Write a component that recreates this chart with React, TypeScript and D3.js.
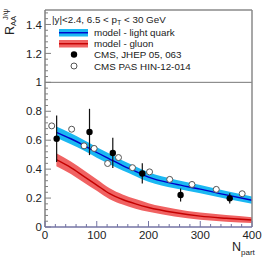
import * as d3 from "d3"

// model curves (Npart grid)
const NPART = [22, 50, 75, 100, 125, 150, 175, 200, 250, 300, 350, 400]
const LQ_MID = [0.655, 0.61, 0.565, 0.515, 0.47, 0.425, 0.385, 0.345, 0.298, 0.262, 0.222, 0.185]
const LQ_HI = [0.695, 0.648, 0.602, 0.552, 0.506, 0.46, 0.419, 0.378, 0.329, 0.291, 0.249, 0.21]
const LQ_LO = [0.617, 0.572, 0.528, 0.478, 0.434, 0.39, 0.351, 0.312, 0.267, 0.233, 0.195, 0.16]
const GL_MID = [0.465, 0.41, 0.35, 0.29, 0.23, 0.19, 0.16, 0.135, 0.1, 0.075, 0.06, 0.048]
const GL_HI = [0.51, 0.453, 0.392, 0.33, 0.268, 0.225, 0.193, 0.165, 0.127, 0.1, 0.083, 0.068]
const GL_LO = [0.42, 0.367, 0.308, 0.25, 0.192, 0.155, 0.127, 0.105, 0.073, 0.05, 0.037, 0.028]

// CMS, JHEP 05, 063
const JHEP_N = [22.5, 86, 131, 188, 262, 357]
const JHEP_R = [0.61, 0.657, 0.512, 0.37, 0.221, 0.198]
const JHEP_ERR = [0.16, 0.16, 0.105, 0.07, 0.045, 0.035]

// CMS PAS HIN-12-014
const PAS_N = [13, 51.5, 75.5, 95, 121, 142, 169, 202, 241, 284, 331, 381]
const PAS_R = [0.699, 0.676, 0.561, 0.543, 0.439, 0.48, 0.41, 0.381, 0.329, 0.294, 0.26, 0.23]

const X_TICKS = [0, 100, 200, 300, 400]
const Y_TICKS = [0, 0.2, 0.4, 0.6, 0.8, 1, 1.2, 1.4]

const LEGEND = ["model - light quark", "model - gluon", "CMS, JHEP 05, 063", "CMS PAS HIN-12-014"]

const W = 266
const H = 258
const left = 45
const right = 252
const top = 10
const bottom = 227

const FONT = "'Liberation Sans', Arial, Helvetica, sans-serif"

export default function App() {
    const x = d3.scaleLinear().domain([0, 400]).range([left, right])
    const y = d3.scaleLinear().domain([0, 1.5]).range([bottom, top])

    const idx = d3.range(NPART.length)
    const band = (lo: number[], hi: number[]) =>
        d3
            .area<number>()
            .x((i) => x(NPART[i]))
            .y0((i) => y(lo[i]))
            .y1((i) => y(hi[i]))
            .curve(d3.curveMonotoneX)(idx) || ""
    const line = (mid: number[]) =>
        d3
            .line<number>()
            .x((i) => x(NPART[i]))
            .y((i) => y(mid[i]))
            .curve(d3.curveMonotoneX)(idx) || ""

    const xMinor = d3.range(0, 401, 20).filter((v) => v % 100 !== 0)
    const yMinor = d3.range(0, 1.501, 0.04).filter((v) => Math.abs(v / 0.2 - Math.round(v / 0.2)) > 0.01)

    const axisY = "#808080"
    const axisX = "#7474a4"

    return (
        <div style={{ position: "fixed", left: 0, top: 0, width: W, height: H, background: "#fff" }}>
            <svg width={W} height={H} style={{ display: "block" }} fontFamily={FONT}>
                {/* bands */}
                <path d={band(GL_LO, GL_HI)} fill="#f06262" />
                <path d={band(LQ_LO, LQ_HI)} fill="#1bb8f2" />
                <path d={line(GL_MID)} fill="none" stroke="#c40000" strokeWidth={1.4} />
                <path d={line(LQ_MID)} fill="none" stroke="#0000c8" strokeWidth={1.4} />

                {/* reference line at 1 */}
                <line x1={left} x2={right} y1={y(1)} y2={y(1)} stroke="#777" strokeWidth={1} />

                {/* frame */}
                <line x1={left} x2={right} y1={top} y2={top} stroke="#8a8a8a" strokeWidth={1.5} />
                <line x1={right} x2={right} y1={top} y2={bottom} stroke="#8a8a8a" strokeWidth={1.5} />

                {/* y axis */}
                <line x1={left} x2={left} y1={top} y2={bottom} stroke={axisY} strokeWidth={1.5} />
                {Y_TICKS.map((v) => (
                    <g key={"yt" + v}>
                        <line x1={left} x2={left + 6} y1={y(v)} y2={y(v)} stroke={axisY} strokeWidth={1} />
                        <text x={left - 3} y={y(v)} dy="0.36em" textAnchor="end" fontSize={11.5} fill="#222">
                            {v}
                        </text>
                    </g>
                ))}
                {yMinor.map((v) => (
                    <line key={"ym" + v} x1={left} x2={left + 3} y1={y(v)} y2={y(v)} stroke={axisY} strokeWidth={1} />
                ))}

                {/* x axis */}
                <line x1={left} x2={right} y1={bottom} y2={bottom} stroke={axisX} strokeWidth={1.5} />
                {X_TICKS.map((v) => (
                    <g key={"xt" + v}>
                        <line x1={x(v)} x2={x(v)} y1={bottom} y2={bottom - 6} stroke={axisX} strokeWidth={1} />
                        <text x={x(v)} y={bottom + 12} textAnchor="middle" fontSize={11.5} fill="#222">
                            {v}
                        </text>
                    </g>
                ))}
                {xMinor.map((v) => (
                    <line key={"xm" + v} x1={x(v)} x2={x(v)} y1={bottom} y2={bottom - 3} stroke={axisX} strokeWidth={1} />
                ))}

                {/* data points */}
                {JHEP_N.map((n, i) => (
                    <g key={"j" + i}>
                        <line
                            x1={x(n)}
                            x2={x(n)}
                            y1={y(JHEP_R[i] - JHEP_ERR[i])}
                            y2={y(JHEP_R[i] + JHEP_ERR[i])}
                            stroke="#111"
                            strokeWidth={1.2}
                        />
                        <circle cx={x(n)} cy={y(JHEP_R[i])} r={3.2} fill="#000" />
                    </g>
                ))}
                {PAS_N.map((n, i) => (
                    <circle key={"p" + i} cx={x(n)} cy={y(PAS_R[i])} r={3} fill="#fff" stroke="#555" strokeWidth={1} />
                ))}

                {/* legend */}
                <text x={52} y={23} fontSize={9.8} fill="#222">
                    |y|&lt;2.4, 6.5 &lt; p<tspan fontSize={7} dy={2}>T</tspan>
                    <tspan dy={-2}> &lt; 30 GeV</tspan>
                </text>
                <rect x={59} y={29} width={29} height={7.5} fill="#1bb8f2" />
                <line x1={59} x2={88} y1={32.75} y2={32.75} stroke="#0000c8" strokeWidth={1.4} />
                <rect x={59} y={40} width={29} height={7.5} fill="#f06262" />
                <line x1={59} x2={88} y1={43.75} y2={43.75} stroke="#c40000" strokeWidth={1.4} />
                <circle cx={74} cy={54.5} r={3.2} fill="#000" />
                <circle cx={74} cy={66} r={3} fill="#fff" stroke="#555" strokeWidth={1} />
                {LEGEND.map((t, i) => (
                    <text key={t} x={94} y={[32.5, 43.5, 54.5, 66][i]} dy="0.36em" fontSize={9.8} fill="#222">
                        {t}
                    </text>
                ))}

                {/* axis titles */}
                <g transform="translate(13.5,35) rotate(-90)" fill="#222">
                    <text x={0} y={0} fontSize={12.5}>R</text>
                    <text x={9} y={2.5} fontSize={7.5}>AA</text>
                    <text x={15} y={-5.5} fontSize={7.5}>J/ψ</text>
                </g>
                <text x={232} y={250.5} fontSize={12.5} fill="#222">
                    N<tspan fontSize={8} dy={4}>part</tspan>
                </text>
            </svg>
        </div>
    )
}
